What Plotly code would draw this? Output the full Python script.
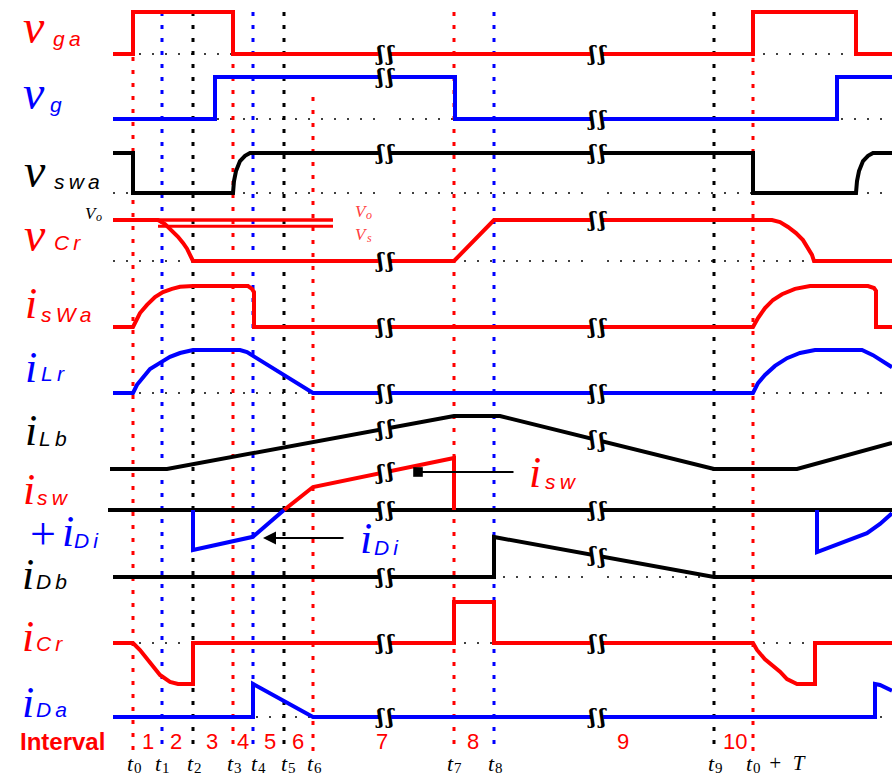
import numpy as np
import plotly.graph_objects as go

RED, BLUE, BLACK = "#ff0000", "#0000ff", "#000000"
W, H = 892, 778

# ---------------- time axis: switching instants ----------------
t_subs = ["0", "1", "2", "3", "4", "5", "6", "7", "8", "9", "0"]
t_vals = [133, 162, 193, 233, 253, 284, 313, 454, 494, 714, 753]
t_colors = [RED, BLUE, BLACK, RED, BLUE, BLACK, RED, RED, BLUE, BLACK, RED]
t_line_top = [57, 12, 12, 64, 12, 12, 97, 12, 12, 12, 58]
t_label_x = [133, 161, 193, 233, 257, 287, 313, 453, 494, 714, 752]
period_suffix = "+\u2002T"

interval_names = ["1", "2", "3", "4", "5", "6", "7", "8", "9", "10"]
interval_x = [148, 176, 212, 243, 270, 298, 382, 473, 623, 735]

# omitted stretches of the time axis
break_spans = [(380, 390), (592, 602)]

# ---------------- waveforms (time, normalised level) ----------------
vga_t = [113, 133, 133, 233, 233, 753, 753, 856, 856, 892]
vga_v = [0, 0, 1, 1, 0, 0, 1, 1, 0, 0]

vg_t = [113, 215, 215, 455, 455, 837, 837, 892]
vg_v = [0, 0, 1, 1, 0, 0, 1, 1]

vswa_t = [113, 133, 133, 233, 234, 236, 240, 245, 250, 753, 753, 856, 857, 859, 863, 868, 873, 892]
vswa_v = [1, 1, 0, 0, 0.3, 0.55, 0.8, 0.93, 1, 1, 0, 0, 0.3, 0.55, 0.8, 0.93, 1, 1]

vcr_t = [113, 158, 165, 172, 178, 183, 187, 190, 193, 454, 494, 772, 780, 788, 796, 803, 808, 812, 814, 892]
vcr_v = [1, 1, 0.9, 0.75, 0.59, 0.44, 0.3, 0.15, 0, 0, 1, 1, 0.95, 0.83, 0.68, 0.51, 0.32, 0.15, 0, 0]
vo_level, vs_level = 1.0, 0.85
vref_t = [113, 333]
vs_t = [158, 333]

iswa_t = [113, 133, 140, 147, 155, 163, 172, 180, 193, 248, 252, 254, 254, 753, 758, 765, 773, 782, 795, 810, 868, 874, 876, 876, 892]
iswa_v = [0, 0, 0.34, 0.54, 0.73, 0.85, 0.93, 0.98, 1, 1, 0.93, 0.85, 0, 0, 0.22, 0.46, 0.66, 0.8, 0.93, 1, 1, 0.95, 0.88, 0, 0]

ilr_t = [113, 133, 137, 143, 150, 160, 170, 180, 193, 240, 247, 313, 753, 758, 765, 775, 787, 800, 815, 862, 873, 892]
ilr_v = [0, 0, 0.19, 0.37, 0.56, 0.7, 0.84, 0.93, 1, 1, 0.95, 0, 0, 0.23, 0.42, 0.63, 0.81, 0.93, 1, 1, 0.88, 0.6]

ilb_t = [110, 167, 454, 500, 714, 797, 892]
ilb_v = [0, 0, 1, 1, 0, 0, 0.49]

zero_t = [108, 892]
zero_v = [0, 0]
isw_t = [284, 313, 454, 454]
isw_v = [0, 0.575, 1.3, 0]
idi1_t = [193, 193, 253, 284]
idi1_v = [0, -1, -0.67, 0]
idi2_t = [817, 817, 867, 880, 892]
idi2_v = [0, -1.05, -0.58, -0.35, -0.08]

idb_t = [113, 494, 494, 714, 892]
idb_v = [0, 0, 1, 0, 0]

icr_t = [113, 133, 140, 150, 160, 170, 178, 193, 193, 454, 454, 494, 494, 753, 757, 765, 773, 780, 787, 797, 815, 815, 892]
icr_v = [0, 0, -0.17, -0.49, -0.78, -0.95, -1, -1, 0, 0, 1, 1, 0, 0, -0.17, -0.4, -0.55, -0.7, -0.88, -1, -1, 0, 0]

ida_t = [113, 253, 253, 313, 875, 875, 880, 892]
ida_v = [0, 0, 1, 0, 0, 1, 0.97, 0.8]

# row placement: (baseline, scale) in screen units
ROW = {
    "vga": (54, 42), "vg": (119, 42), "vswa": (193, 40), "vcr": (261, 41),
    "iswa": (327, 41), "ilr": (393, 43), "ilb": (469, 53), "isw": (510, 40),
    "idb": (577, 40), "icr": (643, 41), "ida": (717, 33),
}


def ys(row, v):
    base, scale = ROW[row]
    return [base - scale * a for a in v]


fig = go.Figure()

# dotted zero references
for row in ["vga", "vg", "vswa", "vcr", "ilr", "idb", "icr", "ida"]:
    y0 = ROW[row][0]
    fig.add_trace(go.Scatter(x=[113, 892], y=[y0, y0], mode="lines",
                             line=dict(color=BLACK, width=1.4, dash="2px,11px"),
                             hoverinfo="skip", showlegend=False))

# instant markers
for tv, col, top in zip(t_vals, t_colors, t_line_top):
    fig.add_trace(go.Scatter(x=[tv, tv], y=[top, 752], mode="lines",
                             line=dict(color=col, width=3, dash="4px,9px"),
                             hoverinfo="skip", showlegend=False))

series = [
    ("vga", vga_t, vga_v, RED),
    ("vg", vg_t, vg_v, BLUE),
    ("vswa", vswa_t, vswa_v, BLACK),
    ("vcr", vcr_t, vcr_v, RED),
    ("iswa", iswa_t, iswa_v, RED),
    ("ilr", ilr_t, ilr_v, BLUE),
    ("ilb", ilb_t, ilb_v, BLACK),
    ("isw", zero_t, zero_v, BLACK),
    ("isw", isw_t, isw_v, RED),
    ("isw", idi1_t, idi1_v, BLUE),
    ("isw", idi2_t, idi2_v, BLUE),
    ("idb", idb_t, idb_v, BLACK),
    ("icr", icr_t, icr_v, RED),
    ("ida", ida_t, ida_v, BLUE),
]

# Vo / Vs reference levels of the resonant capacitor
fig.add_trace(go.Scatter(x=vref_t, y=ys("vcr", [vo_level] * 2), mode="lines",
                         line=dict(color=RED, width=3.5), hoverinfo="skip", showlegend=False))
fig.add_trace(go.Scatter(x=vs_t, y=ys("vcr", [vs_level] * 2), mode="lines",
                         line=dict(color=RED, width=3), hoverinfo="skip", showlegend=False))

for row, tt, vv, col in series:
    fig.add_trace(go.Scatter(x=tt, y=ys(row, vv), mode="lines",
                             line=dict(color=col, width=4),
                             hoverinfo="skip", showlegend=False))

shapes = []
annotations = []


def text(x, y, s, family, size, color, italic=False, anchor="center", bold=False):
    font = dict(family=family, size=size, color=color)
    if italic:
        font["style"] = "italic"
    if bold:
        font["weight"] = "bold"
    annotations.append(dict(x=x, y=y, text=s, showarrow=False, xanchor=anchor,
                            yanchor="middle", font=font))


# gaps in the time axis with break marks
for a, b in break_spans:
    shapes.append(dict(type="rect", xref="x", yref="y", x0=a, x1=b, y0=4, y1=726,
                       fillcolor="white", line=dict(width=0), layer="above"))
    for row, tt, vv, col in series:
        if tt[0] < a and tt[-1] > b:
            yy = ys(row, vv)
            for xe in (a, b):
                ye = float(np.interp(xe, tt, yy))
                text(xe, ye, "ʃ", "DejaVu Serif", 20, BLACK, bold=True)

# signal names
MAIN_FONT = "Liberation Serif"
SUB_FONT = "Liberation Sans"
labels = [
    # glyph, subscript, colour, glyph centre, subscript left edge / centre, glyph size
    ("v", "g\u2009a", RED, (34, 26), (51, 38), 48),
    ("v", "g", BLUE, (34, 92), (48, 104), 48),
    ("v", "s\u2009w\u2009a", BLACK, (35, 170), (52, 181), 48),
    ("v", "C\u2009r", RED, (35, 234), (52, 242), 48),
    ("i", "s\u2009W\u2009a", RED, (31, 303), (39, 314), 44),
    ("i", "L\u2009r", BLUE, (31, 367), (39, 373), 44),
    ("i", "L\u2009b", BLACK, (31, 430), (37, 438), 44),
    ("i", "s\u2009w", RED, (29, 489), (35, 497), 44),
    ("i", "D\u2009i", BLUE, (68, 531), (72, 540), 44),
    ("i", "D\u2009b", BLACK, (28, 574), (34, 581), 44),
    ("i", "C\u2009r", RED, (28, 636), (34, 643), 44),
    ("i", "D\u2009a", BLUE, (28, 702), (34, 709), 44),
]
for g, sub, col, (gx, gy), (sx, sy), gs in labels:
    text(gx, gy, g, MAIN_FONT, gs, col, italic=True)
    text(sx, sy, sub, SUB_FONT, 21, col, italic=True, anchor="left")
text(43, 533, "+", "Liberation Serif", 46, BLUE)

# Vo / Vs level tags
for (vx, vy, sub, col) in [(91, 213, "o", BLACK), (361, 211, "o", "#ff4040"), (361, 234, "s", "#ff4040")]:
    text(vx, vy, "V", MAIN_FONT, 17, col, italic=True)
    text(vx + 8, vy + 4, sub, MAIN_FONT, 12, col, italic=True)

# pointer labels inside the plot
annotations.append(dict(x=418, y=472, ax=515, ay=472, axref="x", ayref="y", xref="x", yref="y",
                        text="", showarrow=True, arrowhead=7, arrowsize=1.2, arrowwidth=2, arrowcolor=BLACK))
text(535, 472, "i", MAIN_FONT, 44, RED, italic=True)
text(543, 481, "s\u2009w", SUB_FONT, 21, RED, italic=True, anchor="left")
annotations.append(dict(x=263, y=538, ax=345, ay=538, axref="x", ayref="y", xref="x", yref="y",
                        text="", showarrow=True, arrowhead=2, arrowsize=1.3, arrowwidth=2, arrowcolor=BLACK))
text(366, 538, "i", MAIN_FONT, 44, BLUE, italic=True)
text(372, 547, "D\u2009i", SUB_FONT, 21, BLUE, italic=True, anchor="left")

# interval row
text(62, 741, "Interval", "Liberation Sans", 24, RED, bold=True)
for name, ix in zip(interval_names, interval_x):
    text(ix, 741, name, "Liberation Sans", 22, RED)

# instant names
for i, (sub, lx) in enumerate(zip(t_subs, t_label_x)):
    text(lx - 3, 763, "t", MAIN_FONT, 22, BLACK, italic=True)
    text(lx + 5, 768, sub, MAIN_FONT, 15, BLACK)
    if i == len(t_subs) - 1:
        text(lx + 14, 763, period_suffix, MAIN_FONT, 21, BLACK, italic=True, anchor="left")

fig.update_layout(
    width=W, height=H, margin=dict(l=0, r=0, t=0, b=0),
    paper_bgcolor="white", plot_bgcolor="white",
    xaxis=dict(range=[0, W], visible=False, fixedrange=True),
    yaxis=dict(range=[H, 0], visible=False, fixedrange=True),
    shapes=shapes, annotations=annotations, showlegend=False,
)
fig.write_html("out.html")
